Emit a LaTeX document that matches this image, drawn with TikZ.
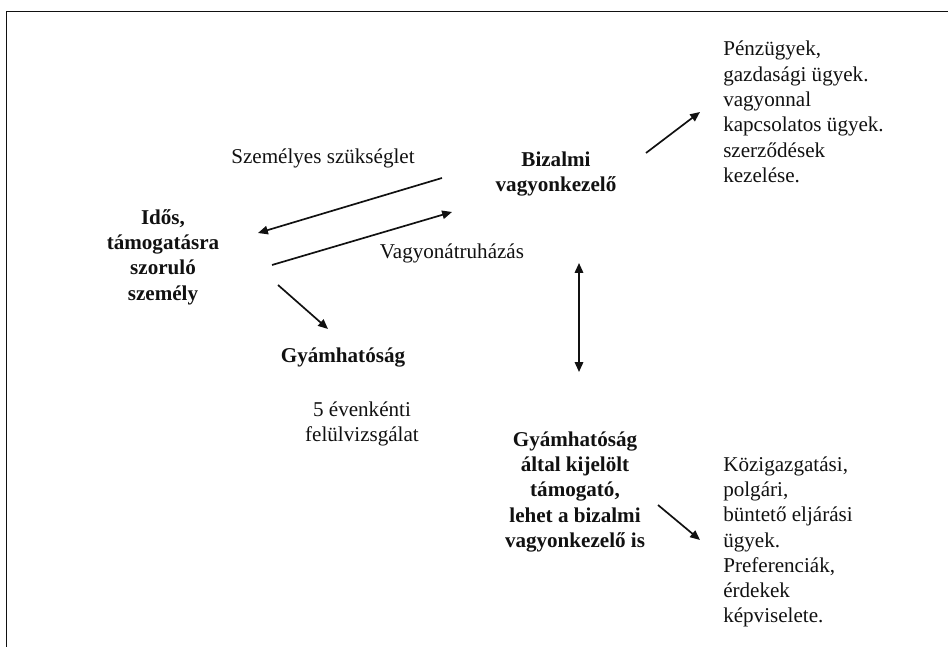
\documentclass[tikz,border=0pt]{standalone}
\usepackage{fontspec}
\setmainfont{Liberation Serif}
\usepackage{xcolor}
\usetikzlibrary{arrows.meta}
\definecolor{inkBlack}{HTML}{111111}
\tikzset{
  keytext/.style={align=center, font=\fontsize{15}{18}\selectfont\bfseries, text=inkBlack, inner sep=0pt},
  plaintext/.style={align=center, font=\fontsize{15}{18}\selectfont, text=inkBlack, inner sep=0pt},
  listtext/.style={align=left, anchor=west, font=\fontsize{15}{18}\selectfont, text=inkBlack, inner sep=0pt},
  flowarrow/.style={-{Triangle[length=7pt,width=6pt]}, line width=1.2pt, draw=inkBlack},
  bothflow/.style={{Triangle[length=7pt,width=6pt]}-{Triangle[length=7pt,width=6pt]}, line width=1.2pt, draw=inkBlack},
}

\begin{document}
\begin{tikzpicture}[x=1cm,y=1cm]

  \useasboundingbox (0,0) rectangle (23.7,16.175);

  % ---------- frame ----------
  \draw[line width=1.2pt, draw=inkBlack] (0.1625,0) -- (0.1625,15.89) -- (23.7,15.89);

  % ---------- main actors ----------
  \node[keytext] (idos)    at (4.075,9.75)   {Idős,\\ támogatásra\\ szoruló\\ személy};
  \node[keytext] (bizalmi) at (13.9,11.825)  {Bizalmi\\ vagyonkezelő};
  \node[keytext] (gyam)    at (8.575,7.225)  {Gyámhatóság};
  \node[keytext] (gyamtam) at (14.375,3.875) {Gyámhatóság\\ által kijelölt\\ támogató,\\ lehet a bizalmi\\ vagyonkezelő is};

  % ---------- labels ----------
  \node[plaintext] (szuks)  at (8.075,12.225) {Személyes szükséglet};
  \node[plaintext] (vagyon) at (11.3,9.85)    {Vagyonátruházás};
  \node[plaintext] (felul)  at (9.05,5.575)   {5 évenkénti\\ felülvizsgálat};

  % ---------- task lists ----------
  \node[listtext] (penz)  at (18.075,13.375) {Pénzügyek,\\ gazdasági ügyek.\\ vagyonnal\\ kapcsolatos ügyek.\\ szerződések\\ kezelése.};
  \node[listtext] (kozig) at (18.075,2.625)  {Közigazgatási,\\ polgári,\\ büntető eljárási\\ ügyek.\\ Preferenciák,\\ érdekek\\ képviselete.};

  % ---------- arrow ends ----------
  \coordinate (needS)  at (11.05,11.725);
  \coordinate (needE)  at (6.45,10.35);
  \coordinate (transS) at (6.8,9.55);
  \coordinate (transE) at (11.3,10.875);
  \coordinate (guardS) at (6.95,9.05);
  \coordinate (guardE) at (8.2,7.95);
  \coordinate (finS)   at (16.15,12.35);
  \coordinate (finE)   at (17.5,13.375);
  \coordinate (supT)   at (14.475,9.6);
  \coordinate (supB)   at (14.475,6.875);
  \coordinate (legS)   at (16.45,3.55);
  \coordinate (legE)   at (17.5,2.675);

  % ---------- flows ----------
  \draw[flowarrow] (needS) -- (needE);
  \draw[flowarrow] (transS) -- (transE);
  \draw[flowarrow] (guardS) -- (guardE);
  \draw[flowarrow] (finS) -- (finE);
  \draw[bothflow]  (supT) -- (supB);
  \draw[flowarrow] (legS) -- (legE);

\end{tikzpicture}
\end{document}
